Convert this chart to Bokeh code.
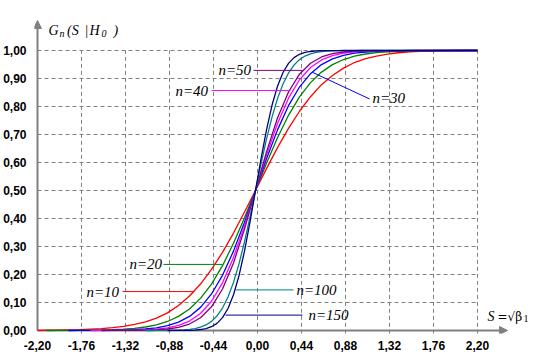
from bokeh.plotting import figure
from bokeh.models import Range1d, FixedTicker, CustomJSTickFormatter, Arrow, NormalHead
from bokeh.core.properties import value
from bokeh.embed import file_html
from bokeh.resources import INLINE

nan = float("nan")

# ---- axes ticks -------------------------------------------------------------
x_ticks = [-2.20, -1.76, -1.32, -0.88, -0.44, 0.00, 0.44, 0.88, 1.32, 1.76, 2.20]
y_ticks = [0.0, 0.1, 0.2, 0.3, 0.4, 0.5, 0.6, 0.7, 0.8, 0.9, 1.0]

# ---- curve data: G_n(S | H0) -----------------------------------------------
s_coarse = [-2.20, -2.11, -2.00, -1.89, -1.78, -1.67, -1.56, -1.45, -1.34, -1.23,
            -1.12, -1.01, -0.90, -0.79, -0.68, -0.57, -0.46, -0.35, -0.24, -0.13,
            -0.02, 0.09, 0.20, 0.31, 0.42, 0.53, 0.64, 0.75, 0.86, 0.97,
            1.08, 1.19, 1.30, 1.41, 1.52, 1.63, 1.74, 1.85, 1.96, 2.07,
            2.18, 2.20]
s_fine = [-1.12, -1.065, -1.01, -0.955, -0.90, -0.845, -0.79, -0.735, -0.68, -0.625,
          -0.57, -0.515, -0.46, -0.405, -0.35, -0.295, -0.24, -0.185, -0.13, -0.075,
          -0.02, 0.035, 0.09, 0.145, 0.20, 0.255, 0.31, 0.365, 0.42, 0.475,
          0.53, 0.585, 0.64, 0.695, 0.75, 0.805, 0.86, 0.915, 0.97, 1.025,
          1.08, 2.20]

g_n10 = [0.000, 0.001, 0.001, 0.002, 0.003, 0.005, 0.007, 0.010, 0.015, 0.022,
         0.031, 0.044, 0.063, 0.089, 0.123, 0.166, 0.218, 0.279, 0.348, 0.423,
         0.500, 0.578, 0.653, 0.722, 0.783, 0.835, 0.878, 0.911, 0.937, 0.957,
         0.971, 0.980, 0.987, 0.992, 0.995, 0.997, 0.998, 0.999, 1.000, 1.000,
         1.000, 1.000]
g_n20 = [nan, 0.0, 0.0002, 0.0004, 0.0006, 0.001, 0.0017, 0.0028, 0.0046, 0.0077,
         0.0125, 0.0202, 0.0322, 0.0504, 0.0771, 0.1148, 0.1658, 0.2315, 0.3113, 0.4025,
         0.5, 0.5975, 0.6887, 0.7685, 0.8342, 0.8852, 0.9229, 0.9496, 0.9678, 0.9798,
         0.9875, 0.9923, 0.9954, 0.9972, 0.9983, 0.999, 0.9994, 0.9996, 0.9998, 1.0,
         1.0, 1.0]
g_n30 = [nan, nan, nan, 0.0, 0.0001, 0.0003, 0.0005, 0.0009, 0.0016, 0.0030,
         0.0054, 0.0097, 0.0172, 0.0298, 0.0504, 0.0826, 0.1305, 0.1971, 0.2835, 0.3868,
         0.5, 0.6132, 0.7165, 0.8029, 0.8695, 0.9174, 0.9496, 0.9702, 0.9828, 0.9903,
         0.9946, 0.997, 0.9984, 0.9991, 0.9995, 0.9997, 0.9999, 1.0, 1.0, 1.0,
         1.0, 1.0]
g_n40 = [nan, nan, nan, nan, nan, 0.0, 0.0001, 0.0003, 0.0006, 0.0012,
         0.0024, 0.0048, 0.0095, 0.0182, 0.0338, 0.0608, 0.1045, 0.1702, 0.2607, 0.3736,
         0.5, 0.6264, 0.7393, 0.8298, 0.8955, 0.9392, 0.9662, 0.9818, 0.9905, 0.9952,
         0.9976, 0.9988, 0.9994, 0.9997, 0.9999, 1.0, 1.0, 1.0, 1.0, 1.0,
         1.0, 1.0]
g_n50 = [nan, nan, nan, nan, nan, nan, 0.0, 0.0001, 0.0002, 0.0005,
         0.0011, 0.0025, 0.0053, 0.0113, 0.0231, 0.0455, 0.0847, 0.1483, 0.2412, 0.3619,
         0.5, 0.6381, 0.7588, 0.8517, 0.9153, 0.9545, 0.9769, 0.9887, 0.9947, 0.9975,
         0.9989, 0.9995, 0.9998, 0.9999, 1.0, 1.0, 1.0, 1.0, 1.0, 1.0,
         1.0, 1.0]
g_n100 = [0.0, 0.0, 0.0001, 0.0002, 0.0004, 0.0007, 0.0013, 0.0023, 0.004, 0.0069,
          0.0118, 0.0199, 0.0326, 0.052, 0.0802, 0.1195, 0.1719, 0.2379, 0.3168, 0.4056,
          0.5, 0.5944, 0.6832, 0.7621, 0.8281, 0.8805, 0.9198, 0.948, 0.9674, 0.9801,
          0.9882, 0.9931, 0.996, 0.9977, 0.9987, 0.9993, 0.9996, 0.9998, 0.9999, 1.0,
          1.0, 1.0]
g_n150 = [nan, nan, nan, nan, 0.0, 0.0001, 0.0002, 0.0004, 0.0008, 0.0017,
          0.0035, 0.0069, 0.0135, 0.0256, 0.0459, 0.0787, 0.1276, 0.1957, 0.2833, 0.3870,
          0.5, 0.6130, 0.7167, 0.8043, 0.8724, 0.9213, 0.9541, 0.9744, 0.9865, 0.9931,
          0.9965, 0.9983, 0.9992, 0.9996, 0.9998, 0.9999, 1.0, 1.0, 1.0, 1.0,
          1.0, 1.0]

series_names = ["n=10", "n=20", "n=30", "n=40", "n=50", "n=100", "n=150"]
series_x = [s_coarse, s_coarse, s_coarse, s_coarse, s_coarse, s_fine, s_fine]
series_g = [g_n10, g_n20, g_n30, g_n40, g_n50, g_n100, g_n150]
series_colors = ["#ff0000", "#008000", "#0000ff", "#ff00ff", "#800080", "#008080", "#000080"]

# ---- curve labels and leader lines ------------------------------------------
label_x = [-1.71, -1.28, 1.15, -0.82, -0.39, 0.39, 0.51]
label_y = [0.139, 0.236, 0.832, 0.857, 0.929, 0.145, 0.055]
lead_x0 = [-1.35, -0.94, 0.55, -0.46, -0.04, -0.22, -0.32]
lead_y0 = [0.139, 0.236, 0.922, 0.857, 0.929, 0.145, 0.055]
lead_x1 = [-0.64, -0.35, 1.12, 0.33, 0.45, 0.36, 0.45]
lead_y1 = [0.139, 0.236, 0.827, 0.857, 0.929, 0.145, 0.055]

GRAY = "#808080"

p = figure(width=540, height=360,
           x_range=Range1d(-2.23, 2.83), y_range=Range1d(-0.01071, 1.17857),
           output_backend="svg", toolbar_location=None,
           min_border_left=34, min_border_right=0, min_border_top=0, min_border_bottom=27)
p.outline_line_color = None
p.xgrid.visible = False
p.ygrid.visible = False
p.background_fill_color = "white"
p.border_fill_color = "white"

for ax, ticks in ((p.xaxis[0], x_ticks), (p.yaxis[0], y_ticks)):
    ax.ticker = FixedTicker(ticks=ticks)
    ax.formatter = CustomJSTickFormatter(code="return tick.toFixed(2).replace('.', ',');")
    ax.axis_line_color = None
    ax.major_tick_line_color = None
    ax.minor_tick_line_color = None
    ax.major_tick_out = 0
    ax.major_tick_in = 0
    ax.minor_tick_out = 0
    ax.minor_tick_in = 0
    ax.major_label_text_font = "Liberation Sans"
    ax.major_label_text_font_style = "bold"
    ax.major_label_text_font_size = "12px"
    ax.major_label_text_color = "black"
p.xaxis.major_label_standoff = 7
p.yaxis.major_label_standoff = 8

# dashed grid
p.segment(x0=x_ticks[0], x1=x_ticks[-1], y0=y_ticks[1:], y1=y_ticks[1:],
          line_color=GRAY, line_width=1, line_dash="4 3")
p.segment(x0=x_ticks[1:], x1=x_ticks[1:], y0=-0.012, y1=y_ticks[-1],
          line_color=GRAY, line_width=1, line_dash="4 3")

# axis arrows
p.add_layout(Arrow(end=NormalHead(size=8, fill_color=GRAY, line_color=GRAY),
                   x_start=-2.2, y_start=0.0, x_end=2.50, y_end=0.0,
                   line_color=GRAY, line_width=2, level="underlay"))
p.add_layout(Arrow(end=NormalHead(size=8, fill_color=GRAY, line_color=GRAY),
                   x_start=-2.2, y_start=0.0, x_end=-2.2, y_end=1.107,
                   line_color=GRAY, line_width=2, level="underlay"))

# curves
for xs, gs, c in zip(series_x, series_g, series_colors):
    p.line(xs, gs, line_color=c, line_width=1.3)

# leader lines + labels
p.segment(x0=lead_x0, y0=lead_y0, x1=lead_x1, y1=lead_y1,
          line_color=series_colors, line_width=1)
p.text(x=label_x, y=label_y, text=series_names, text_font=value("Liberation Serif"),
       text_font_style="italic", text_font_size="15px", text_baseline="middle",
       text_align="left", text_color="black")

# y title  G_n(S | H_0)
p.text(x=[-2.09, -1.905, -1.73, -1.68, -1.44], y=[1.0714] * 5,
       text=["G", "(S", "|", "H", ")"], text_font=value("Liberation Serif"),
       text_font_style="italic", text_font_size="14px", text_baseline="alphabetic",
       text_color="black")
p.text(x=[-1.98, -1.56], y=[1.0607] * 2, text=["n", "0"],
       text_font=value("Liberation Serif"), text_font_style="italic",
       text_font_size="10px", text_baseline="alphabetic", text_color="black")

# x title  S = sqrt(beta_1)
p.text(x=[2.30], y=[0.05], text=["S"], text_font=value("Liberation Serif"),
       text_font_style="italic", text_font_size="14px", text_baseline="alphabetic",
       text_color="black")
p.text(x=[2.40, 2.50], y=[0.05, 0.05], text=["=", "\u221a\u03b2"], text_font=value("DejaVu Serif"),
       text_font_size="12px", text_baseline="alphabetic", text_color="black")
p.text(x=[2.66], y=[0.043], text=["1"], text_font=value("Liberation Serif"),
       text_font_size="10px", text_baseline="alphabetic", text_color="black")

open("out.html", "w").write(file_html(p, INLINE))
